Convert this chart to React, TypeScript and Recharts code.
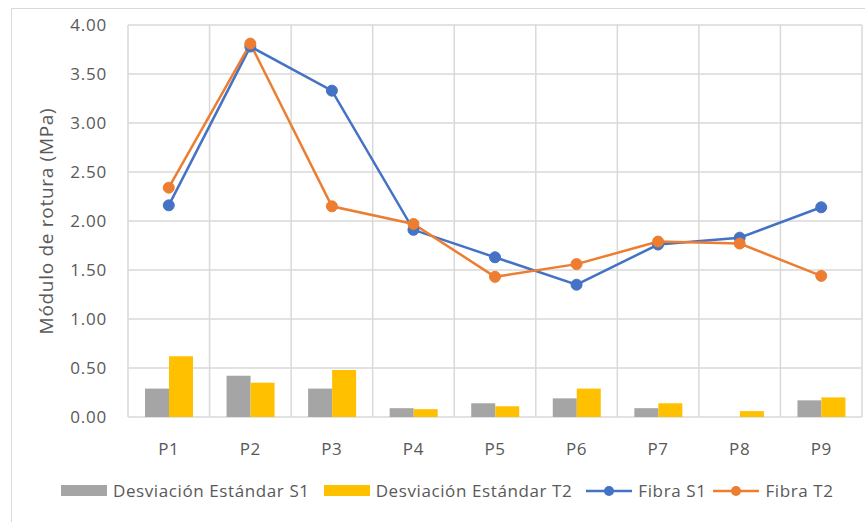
import React from "react";
import { ComposedChart, Bar, Line, XAxis, YAxis, CartesianGrid } from "recharts";

const categories = ["P1", "P2", "P3", "P4", "P5", "P6", "P7", "P8", "P9"];
const desvS1 = [0.29, 0.42, 0.29, 0.09, 0.14, 0.19, 0.09, 0, 0.17];
const desvT2 = [0.62, 0.35, 0.48, 0.08, 0.11, 0.29, 0.14, 0.06, 0.2];
const fibraS1 = [2.16, 3.78, 3.33, 1.91, 1.63, 1.35, 1.76, 1.83, 2.14];
const fibraT2 = [2.34, 3.81, 2.15, 1.97, 1.43, 1.56, 1.79, 1.77, 1.44];
const yTicks = [0, 0.5, 1, 1.5, 2, 2.5, 3, 3.5, 4];

const GRAY = "#A5A5A5";
const YELLOW = "#FFC000";
const BLUE = "#4472C4";
const ORANGE = "#ED7D31";
const TEXT = "#595959";
const FONT = "'Open Sans', sans-serif";

const data = categories.map((name, i) => ({
  name,
  desvS1: desvS1[i],
  desvT2: desvT2[i],
  fibraS1: fibraS1[i],
  fibraT2: fibraT2[i],
}));

const legendItems = [
  { label: "Desviación Estándar S1", color: GRAY, kind: "bar" },
  { label: "Desviación Estándar T2", color: YELLOW, kind: "bar" },
  { label: "Fibra S1", color: BLUE, kind: "line" },
  { label: "Fibra T2", color: ORANGE, kind: "line" },
];

function ChartLegend() {
  return (
    <div
      style={{
        position: "absolute",
        left: 61,
        top: 479,
        display: "flex",
        alignItems: "center",
        fontFamily: FONT,
        fontSize: 17,
        letterSpacing: 0.6,
        color: TEXT,
        whiteSpace: "nowrap",
      }}
    >
      {legendItems.map((item) => (
        <div key={item.label} style={{ display: "flex", alignItems: "center", marginRight: item.kind === "bar" ? 14 : 7 }}>
          {item.kind === "bar" ? (
            <div style={{ width: 46, height: 11, background: item.color }} />
          ) : (
            <svg width={46} height={12}>
              <line x1={0} y1={6} x2={46} y2={6} stroke={item.color} strokeWidth={2.5} />
              <circle cx={23} cy={6} r={5} fill={item.color} />
            </svg>
          )}
          <span style={{ marginLeft: 6 }}>{item.label}</span>
        </div>
      ))}
    </div>
  );
}

export default function App() {
  return (
    <div style={{ position: "absolute", left: 0, top: 0, width: 865, height: 522, background: "#fff", overflow: "hidden" }}>
      <div
        style={{
          position: "absolute",
          left: 11,
          top: 8,
          width: 900,
          height: 600,
          border: "1px solid #d9d9d9",
        }}
      />
      <div style={{ position: "absolute", left: 0, top: 0 }}>
        <ComposedChart
          width={865}
          height={522}
          data={data}
          margin={{ top: 25, right: 3, left: 0, bottom: 60 }}
          barGap={0}
          barCategoryGap="20%"
        >
          <CartesianGrid
            stroke="#d9d9d9"
            strokeWidth={1.5}
            verticalCoordinatesGenerator={({ offset }: any) =>
              categories.concat([""]).map((_, i) => offset.left + (i * offset.width) / categories.length)
            }
          />
          <XAxis
            dataKey="name"
            axisLine={false}
            tickLine={false}
            height={45}
            tickMargin={20}
            tick={{ fill: TEXT, fontSize: 17, fontFamily: FONT, letterSpacing: 0.6 }}
          />
          <YAxis
            width={128}
            domain={[0, 4]}
            ticks={yTicks}
            axisLine={false}
            tickLine={false}
            tickMargin={15}
            tickFormatter={(v: number) => v.toFixed(2)}
            tick={{ fill: TEXT, fontSize: 17, fontFamily: FONT, letterSpacing: 0.8 }}
            label={{
              value: "Módulo de rotura (MPa)",
              angle: -90,
              position: "insideLeft",
              offset: 46,
              style: { fill: TEXT, fontSize: 19, fontFamily: FONT, letterSpacing: 0.7, textAnchor: "middle" },
            }}
          />
          <Bar dataKey="desvS1" fill={GRAY} barSize={24} isAnimationActive={false} />
          <Bar dataKey="desvT2" fill={YELLOW} barSize={24} isAnimationActive={false} />
          <Line
            dataKey="fibraS1"
            stroke={BLUE}
            strokeWidth={2.5}
            dot={{ r: 5.5, fill: BLUE, stroke: BLUE, strokeWidth: 1 }}
            activeDot={false}
            isAnimationActive={false}
          />
          <Line
            dataKey="fibraT2"
            stroke={ORANGE}
            strokeWidth={2.5}
            dot={{ r: 5.5, fill: ORANGE, stroke: ORANGE, strokeWidth: 1 }}
            activeDot={false}
            isAnimationActive={false}
          />
        </ComposedChart>
      </div>
      <ChartLegend />
    </div>
  );
}
